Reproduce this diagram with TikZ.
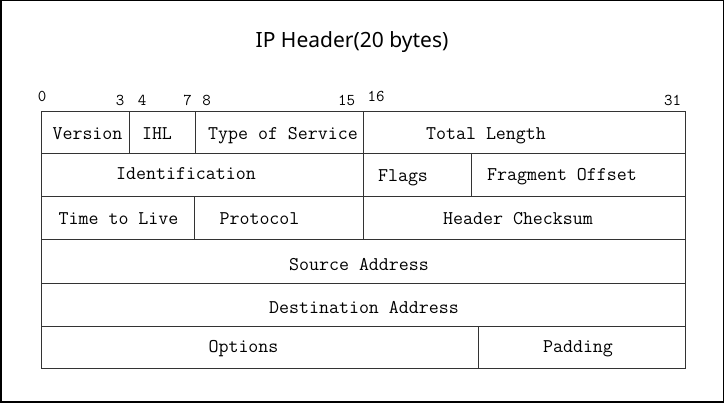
\documentclass[tikz,border=0pt]{standalone}
\usepackage{fontspec}
\newfontfamily\titlefont{Noto Sans}
\begin{document}
\begin{tikzpicture}[x=1pt,y=-1pt,
  grid/.style={draw=black!80,line width=1pt},
  field/.style={font=\ttfamily\fontsize{19.4}{19.4}\selectfont,anchor=base,inner sep=0pt},
  bitnum/.style={font=\ttfamily\fontsize{16.5}{16.5}\selectfont,anchor=base,inner sep=0pt},
  title/.style={font=\titlefont\fontsize{21}{21}\selectfont,anchor=base,inner sep=0pt}]
\useasboundingbox (0,0) rectangle (725,403);
\draw[line width=1.5pt] (0.75,0.75) rectangle (723.5,402);
\node[title] (t) at (352,48) {IP Header(20 bytes)};
% bit numbers
\node[bitnum] (b0) at (42,101.5) {0};
\node[bitnum] (b3) at (120,106) {3};
\node[bitnum] (b4) at (142,106) {4};
\node[bitnum] (b7) at (187.5,106) {7};
\node[bitnum] (b8) at (206.5,106) {8};
\node[bitnum] (b15) at (346.5,106) {15};
\node[bitnum] (b16) at (376,101.5) {16};
\node[bitnum] (b31) at (672.5,106) {31};
% grid
\draw[grid] (41,112) rectangle (685,368);
\draw[grid] (41,154) -- (685,154);
\draw[grid] (41,197) -- (685,197);
\draw[grid] (41,240) -- (685,240);
\draw[grid] (41,283) -- (685,283);
\draw[grid] (41,326) -- (685,326);
\draw[grid] (129,112) -- (129,154);
\draw[grid] (195,112) -- (195,154);
\draw[grid] (363,112) -- (363,240);
\draw[grid] (471,154) -- (471,197);
\draw[grid] (194,197) -- (194,240);
\draw[grid] (478,326) -- (478,368);
% fields
\node[field] (ver) at (87.5,140) {Version};
\node[field] (ihl) at (157,140) {IHL};
\node[field] (tos) at (283,140) {Type of Service};
\node[field] (tl) at (486,140) {Total Length};
\node[field] (id) at (186,180) {Identification};
\node[field] (fl) at (403,182) {Flags};
\node[field] (fo) at (562,181) {Fragment Offset};
\node[field] (ttl) at (118.5,225) {Time to Live};
\node[field] (pr) at (259.5,225) {Protocol};
\node[field] (hc) at (518,225) {Header Checksum};
\node[field] (sa) at (359,271) {Source Address};
\node[field] (da) at (364,313) {Destination Address};
\node[field] (op) at (243.5,352) {Options};
\node[field] (pad) at (578,352) {Padding};
\end{tikzpicture}
\end{document}
